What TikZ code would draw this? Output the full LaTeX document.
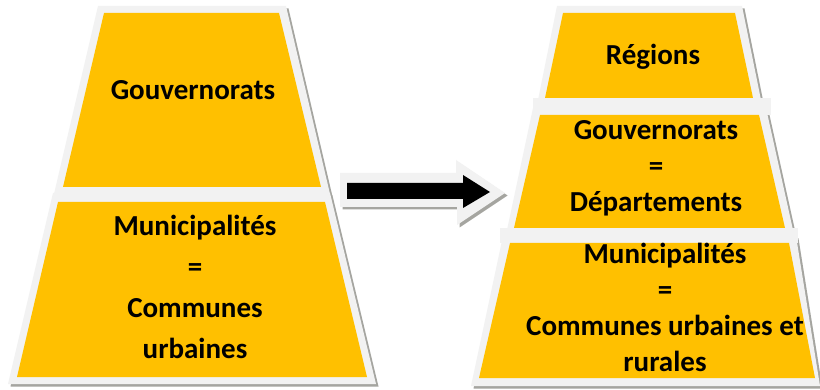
\documentclass[tikz,border=0pt]{standalone}
\usepackage{fontspec}
\setmainfont{Carlito}

\definecolor{gold}{HTML}{FFC000}
\definecolor{rim}{HTML}{F2F2F2}
\definecolor{shade}{HTML}{A5A5A0}

\tikzset{
    txtL/.style={font=\bfseries\fontsize{29}{41}\selectfont, align=center, inner sep=0pt},
    txtR/.style={font=\bfseries\fontsize{29}{36}\selectfont, align=center, inner sep=0pt},
    shadow/.style={fill=shade, shift={(2.5,2.5)}},
}

\begin{document}
\begin{tikzpicture}[x=1pt, y=-1pt]
    \useasboundingbox[fill=white] (0,0) rectangle (820,390);

    % shadows
    \fill[shadow] (98,6) -- (286,6) -- (330,194) -- (56,194) -- cycle;
    \fill[shadow] (55,193) -- (330,193) -- (376,384) -- (8,384) -- cycle;
    \fill[shadow] (557,6) -- (742,6) -- (761,100) -- (540,100) -- cycle;
    \fill[shadow] (535,108) -- (766,108) -- (793,230) -- (509,230) -- cycle;
    \fill[shadow] (505,236) -- (796,236) -- (820,386) -- (471,386) -- cycle;
    \fill[shadow] (340,173) -- (456,173) -- (456,160) -- (505,193) -- (457,225) -- (457,207) -- (340,207) -- cycle;

    % rims
    \fill[rim] (98,6) -- (286,6) -- (330,194) -- (54,194) -- cycle;
    \fill[rim] (53,193) -- (330,193) -- (376,384) -- (8,384) -- cycle;
    \fill[rim] (557,6) -- (742,6) -- (761,100) -- (538,100) -- cycle;
    \fill[rim] (533,108) -- (766,108) -- (793,230) -- (507,230) -- cycle;
    \fill[rim] (503,236) -- (796,236) -- (820,386) -- (471,386) -- cycle;
    \fill[rim] (533,98) rectangle (771,115);
    \fill[rim] (500,228) rectangle (798,243);

    % layers
    \fill[gold] (104,13) -- (279,13) -- (321,187) -- (63,187) -- cycle;
    \fill[gold] (58,202) -- (325,202) -- (367,377) -- (17,377) -- cycle;
    \fill[gold] (563,13) -- (735,13) -- (753,98) -- (545,98) -- cycle;
    \fill[gold] (540,115) -- (759,115) -- (785,228) -- (514,228) -- cycle;
    \fill[gold] (510,243) -- (789,243) -- (815,378) -- (479,378) -- cycle;

    % arrow
    \fill[rim] (340,173) -- (456,173) -- (456,160) -- (505,193) -- (457,225) -- (457,207) -- (340,207) -- cycle;
    \fill[black] (347,183) -- (463,183) -- (463,175) -- (490,192) -- (463,208) -- (463,199) -- (347,199) -- cycle;

    % texts
    \node[txtL, anchor=base] (gouvL) at (193,100) {Gouvernorats};
    \node[txtL] (muniL) at (195,287) {Municipalités\\=\\Communes\\urbaines};
    \node[txtR, anchor=base] (regions) at (653,65) {Régions};
    \node[txtR] (gouvR) at (656,168) {Gouvernorats\\=\\Départements};
    \node[txtR] (muniR) at (665,307) {Municipalités\\=\\Communes urbaines et\\rurales};
\end{tikzpicture}
\end{document}
